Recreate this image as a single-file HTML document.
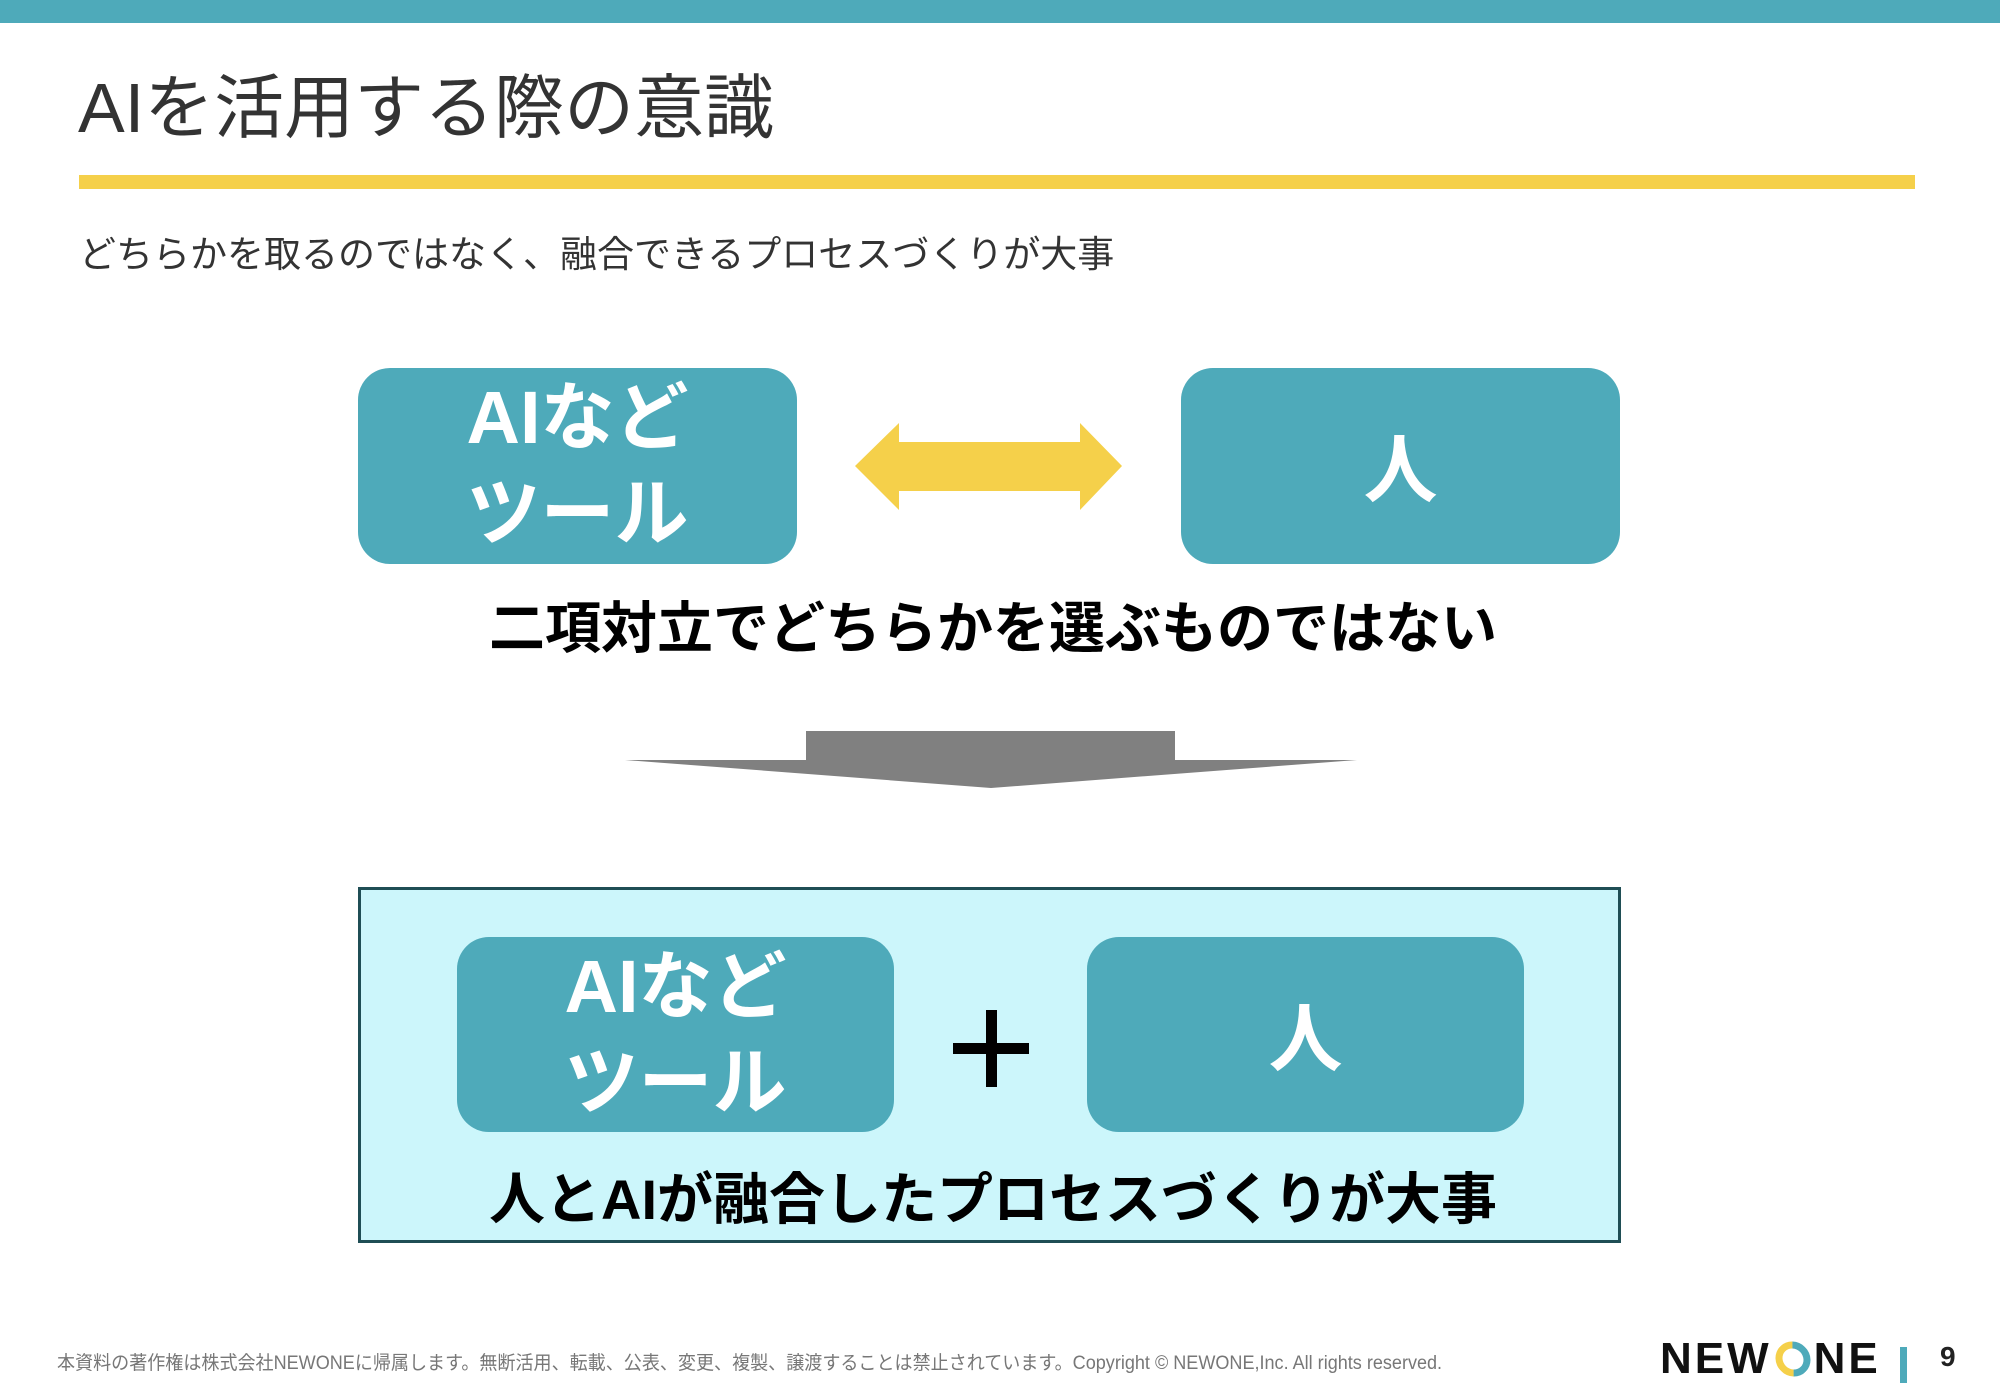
<!DOCTYPE html>
<html><head><meta charset="utf-8"><style>
*{margin:0;padding:0;box-sizing:border-box}
body{width:2000px;height:1383px;background:#fff;position:relative;overflow:hidden;font-family:"Liberation Sans","Noto Sans CJK JP",sans-serif}
.a{position:absolute}
.box{position:absolute;background:#4eaaba;border-radius:32px;color:#fff;font-weight:bold;display:flex;flex-direction:column;align-items:center;justify-content:center;font-size:74px;line-height:96px}
.big{position:absolute;font-weight:bold;color:#000;font-size:56px;white-space:nowrap;text-align:center;transform:translateX(-50%)}
</style></head><body>
<div class="a" style="left:0;top:0;width:2000px;height:23px;background:#4eaaba"></div>
<div class="a" style="left:78px;top:68px;font-size:70px;color:#333;white-space:nowrap;line-height:80px">AIを活用する際の意識</div>
<div class="a" style="left:79px;top:175px;width:1836px;height:14px;background:#f5d04a"></div>
<div class="a" style="left:79px;top:230px;font-size:37px;color:#333;white-space:nowrap;line-height:50px">どちらかを取るのではなく、融合できるプロセスづくりが大事</div>

<div class="box" style="left:358px;top:368px;width:439px;height:196px"><div>AIなど</div><div>ツール</div></div>
<div class="box" style="left:1181px;top:368px;width:439px;height:196px;padding-top:10px">人</div>
<svg class="a" style="left:0;top:0" width="2000" height="1383">
<polygon points="855,466 899,423 899,442 1080,442 1080,423 1122,466 1080,510 1080,491 899,491 899,510" fill="#f5d04a"/>
<polygon points="806,731 1175,731 1175,760 1357,760 991,788 625,760 806,760" fill="#808080"/>
</svg>
<div class="big" style="left:993px;top:592px;line-height:74px">二項対立でどちらかを選ぶものではない</div>

<div class="a" style="left:358px;top:887px;width:1263px;height:356px;background:#ccf6fb;border:3px solid #1f4e55"></div>
<div class="box" style="left:457px;top:937px;width:437px;height:195px"><div>AIなど</div><div>ツール</div></div>
<div class="box" style="left:1087px;top:937px;width:437px;height:195px;padding-top:10px">人</div>
<div class="a" style="left:953px;top:1043px;width:76px;height:11px;background:#000"></div>
<div class="a" style="left:986px;top:1010px;width:11px;height:77px;background:#000"></div>
<div class="big" style="left:993px;top:1163px;line-height:74px">人とAIが融合したプロセスづくりが大事</div>

<div class="a" style="left:57px;top:1352px;font-size:19px;color:#777;white-space:nowrap;line-height:24px;transform:scaleX(0.95);transform-origin:left">本資料の著作権は株式会社NEWONEに帰属します。無断活用、転載、公表、変更、複製、譲渡することは禁止されています。Copyright © NEWONE,Inc.  All rights reserved.</div>
<div class="a" style="left:1660px;top:1334px;font-size:44px;font-weight:bold;color:#111;letter-spacing:3px;line-height:50px">NEW<span style="display:inline-block;width:36px;height:34px;border-radius:50%;border:7px solid #4eaaba;border-left-color:#f5d04a;border-bottom-color:#f5d04a;transform:rotate(45deg);vertical-align:-3px;margin:0 3px"></span>NE</div>
<div class="a" style="left:1900px;top:1347px;width:7px;height:36px;background:#4eaaba"></div>
<div class="a" style="left:1940px;top:1340px;font-size:28px;font-weight:bold;color:#222;line-height:34px">9</div>
</body></html>
